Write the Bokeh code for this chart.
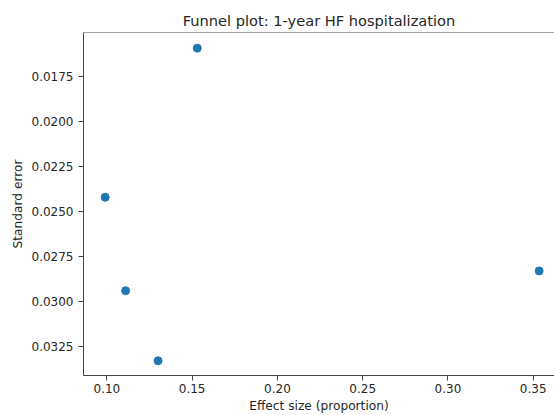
from bokeh.plotting import figure
from bokeh.models import Range1d, FixedTicker, PrintfTickFormatter, Span
from bokeh.embed import file_html
from bokeh.resources import INLINE

# Data
effect_size = [0.153, 0.099, 0.111, 0.130, 0.3535]
std_error = [0.0159, 0.0242, 0.0294, 0.0333, 0.0283]
x_ticks = [0.10, 0.15, 0.20, 0.25, 0.30, 0.35]
y_ticks = [0.0175, 0.0200, 0.0225, 0.0250, 0.0275, 0.0300, 0.0325]

FONT = "DejaVu Sans"
TXT = "#262626"
AX = "#444444"

Y_TOP = 0.01503
Y_BOTTOM = 0.03412

p = figure(width=554, height=415, output_backend="svg", toolbar_location=None,
           title="Funnel plot: 1-year HF hospitalization",
           x_range=Range1d(0.08628, 0.3625), y_range=Range1d(Y_BOTTOM, Y_TOP),
           min_border_left=83, min_border_right=0, min_border_top=32, min_border_bottom=40)

p.title.text_font = FONT
p.title.text_font_size = "14.6px"
p.title.text_font_style = "normal"
p.title.text_color = TXT
p.title.align = "center"
p.title.standoff = 7
p.title.offset = 3

p.xgrid.visible = False
p.ygrid.visible = False
p.outline_line_color = None
p.background_fill_color = "white"
p.border_fill_color = "white"

for ax in (p.xaxis[0], p.yaxis[0]):
    ax.axis_line_color = AX
    ax.axis_line_width = 1
    ax.major_tick_line_color = AX
    ax.major_tick_out = 5
    ax.major_tick_in = 0
    ax.minor_tick_line_color = None
    ax.major_label_text_font = FONT
    ax.major_label_text_font_size = "12px"
    ax.major_label_text_color = TXT
    ax.axis_label_text_font = FONT
    ax.axis_label_text_font_size = "12.2px"
    ax.axis_label_text_font_style = "normal"
    ax.axis_label_text_color = TXT

p.xaxis[0].ticker = FixedTicker(ticks=x_ticks)
p.xaxis[0].formatter = PrintfTickFormatter(format="%.2f")
p.xaxis[0].axis_label = "Effect size (proportion)"
p.xaxis[0].major_label_standoff = 3
p.xaxis[0].axis_label_standoff = 3

p.yaxis[0].ticker = FixedTicker(ticks=y_ticks)
p.yaxis[0].formatter = PrintfTickFormatter(format="%.4f")
p.yaxis[0].axis_label = "Standard error"
p.yaxis[0].major_label_standoff = 5
p.yaxis[0].axis_label_standoff = 4

# top spine
p.add_layout(Span(location=Y_TOP, dimension="width", line_color=AX, line_width=1))

p.scatter(effect_size, std_error, size=8, color="#1f77b4", line_color="#1f77b4")

open("out.html", "w").write(file_html(p, INLINE))
